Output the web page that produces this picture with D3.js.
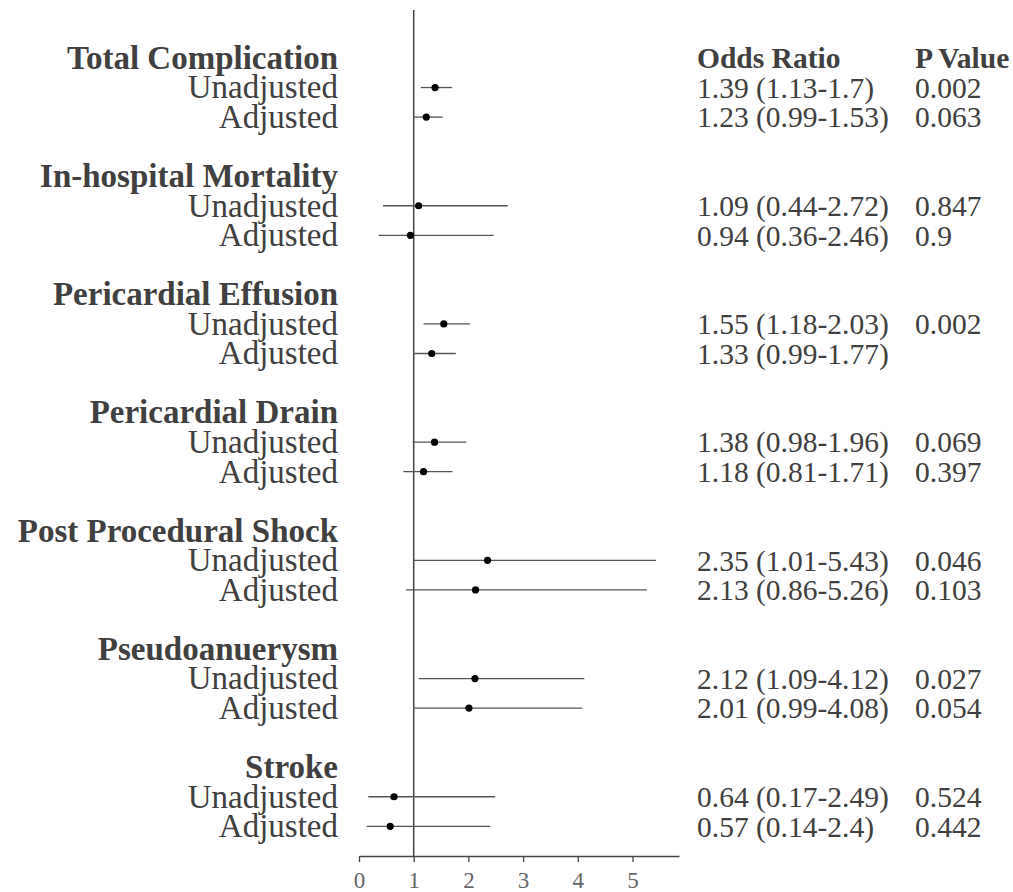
<!DOCTYPE html>
<html><head><meta charset="utf-8">
<script src="https://cdn.jsdelivr.net/npm/d3@7"></script>
<style>body{margin:0;background:#fff}</style>
</head><body>
<svg id="chart" width="1013" height="892"></svg>
<script>
const groups = ["Total Complication","In-hospital Mortality","Pericardial Effusion","Pericardial Drain","Post Procedural Shock","Pseudoanuerysm","Stroke"];
const models = ["Unadjusted","Adjusted"];
const orUnadj = [1.39,1.09,1.55,1.38,2.35,2.12,0.64];
const loUnadj = [1.13,0.44,1.18,0.98,1.01,1.09,0.17];
const hiUnadj = [1.7,2.72,2.03,1.96,5.43,4.12,2.49];
const pUnadj  = ["0.002","0.847","0.002","0.069","0.046","0.027","0.524"];
const orAdj = [1.23,0.94,1.33,1.18,2.13,2.01,0.57];
const loAdj = [0.99,0.36,0.99,0.81,0.86,0.99,0.14];
const hiAdj = [1.53,2.46,1.77,1.71,5.26,4.08,2.4];
const pAdj  = ["0.063","0.9","","0.397","0.103","0.054","0.442"];
const xTicks = [0,1,2,3,4,5];
const colHeaders = ["Odds Ratio","P Value"];

const svg = d3.select("#chart");
const font = "'Liberation Serif', 'Times New Roman', serif";
const textCol = "#404040";
const fsLeft = 33;
const fsRight = 29.5;

const x = d3.scaleLinear().domain([0,5.85]).range([359,679]);
const nRows = groups.length*4 - 1;
const y = d3.scaleLinear().domain([0,nRows]).range([58,58+29.55*nRows]);

const rows = [];
groups.forEach((g,i)=>{
  rows.push({type:"head", label:g, r:i*4});
  rows.push({type:"est", label:models[0], r:i*4+1, or:orUnadj[i], lo:loUnadj[i], hi:hiUnadj[i], p:pUnadj[i]});
  rows.push({type:"est", label:models[1], r:i*4+2, or:orAdj[i], lo:loAdj[i], hi:hiAdj[i], p:pAdj[i]});
});

svg.append("line").attr("x1",x(1)).attr("x2",x(1)).attr("y1",10).attr("y2",856)
  .attr("stroke","#444").attr("stroke-width",1.5);

const axis = d3.axisBottom(x).tickValues(xTicks).tickSize(6).tickSizeOuter(0).tickFormat(d3.format("d"));
const ag = svg.append("g").attr("transform","translate(0,856)").call(axis);
ag.select(".domain").attr("stroke","#444").attr("stroke-width",1.3);
ag.selectAll(".tick line").attr("stroke","#444").attr("stroke-width",1.3);
ag.selectAll(".tick text").attr("font-family",font).attr("font-size",23).attr("fill","#666").attr("dy","1em");

svg.append("g").selectAll("text").data(rows).join("text")
  .attr("x",338).attr("y",d=>y(d.r)).attr("dy","0.33em")
  .attr("text-anchor","end").attr("font-family",font).attr("font-size",fsLeft)
  .attr("font-weight",d=>d.type==="head"?"bold":"normal").attr("fill",textCol)
  .text(d=>d.label);

const est = rows.filter(d=>d.type==="est");
svg.append("g").selectAll("line").data(est).join("line")
  .attr("x1",d=>x(d.lo)).attr("x2",d=>x(d.hi)).attr("y1",d=>y(d.r)).attr("y2",d=>y(d.r))
  .attr("stroke","#555").attr("stroke-width",1.3);
svg.append("g").selectAll("circle").data(est).join("circle")
  .attr("cx",d=>x(d.or)).attr("cy",d=>y(d.r)).attr("r",3.6).attr("fill","#000");

svg.append("g").selectAll("text").data(colHeaders).join("text")
  .attr("x",(d,i)=>i===0?697:915).attr("y",y(0)).attr("dy","0.35em")
  .attr("font-family",font).attr("font-size",fsRight).attr("font-weight","bold").attr("fill",textCol)
  .text(d=>d);
svg.append("g").selectAll("text").data(est).join("text")
  .attr("x",697).attr("y",d=>y(d.r)).attr("dy","0.35em")
  .attr("font-family",font).attr("font-size",fsRight).attr("fill",textCol)
  .text(d=>`${d.or} (${d.lo}-${d.hi})`);
svg.append("g").selectAll("text").data(est).join("text")
  .attr("x",915).attr("y",d=>y(d.r)).attr("dy","0.35em")
  .attr("font-family",font).attr("font-size",fsRight).attr("fill",textCol)
  .text(d=>d.p);
</script>
</body></html>
